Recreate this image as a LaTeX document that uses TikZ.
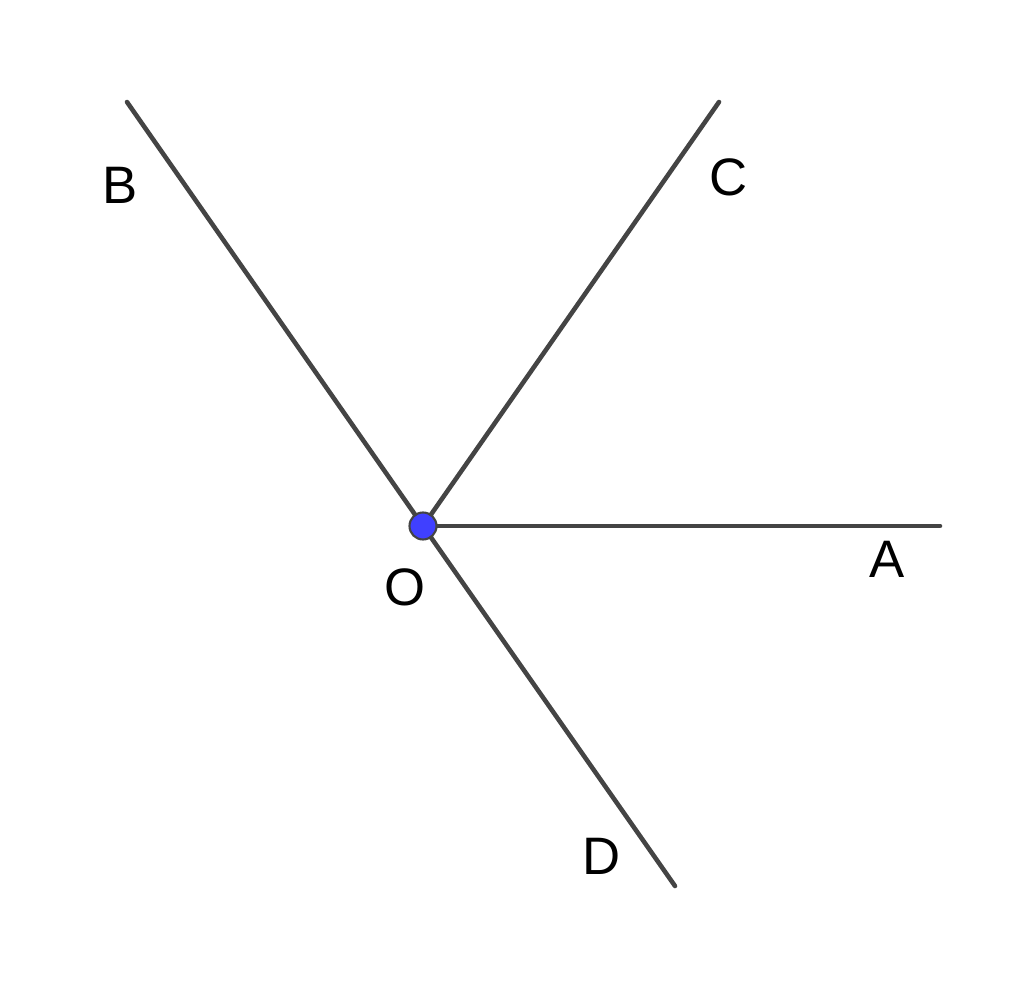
\documentclass[tikz,border=0pt]{standalone}
\usepackage{fontspec}
\setmainfont{Liberation Sans}
\usetikzlibrary{calc}
\definecolor{rayline}{RGB}{68,68,68}
\definecolor{ptblue}{RGB}{64,64,255}

\begin{document}
\begin{tikzpicture}[ray/.style={draw=rayline, line width=1.3pt, line cap=round},
	lbl/.style={font=\fontsize{15}{18}\selectfont, inner sep=0pt}]
			\useasboundingbox (0,0) rectangle (10.24,9.83);
			\coordinate (O) at (4.23,4.57);
			\coordinate (A) at (9.40,4.57);
			\coordinate (B) at (1.27,8.81);
			\coordinate (C) at (7.19,8.81);
			\coordinate (D) at (6.75,0.97);
			
			\draw[ray] (B)--(O)--(C);
			\draw[ray] (O)--(A);
			\draw[ray] (O)--(D);
			\node (pO) [circle, fill=ptblue, draw=rayline, line width=0.6pt, minimum size=0.27cm, inner sep=0pt] at (O){};
			
			\node (lA) [lbl] at (8.87,4.24){A};
			\node (lB) [lbl] at (1.20,7.98){B};
			\node (lC) [lbl] at (7.29,8.06){C};
			\node (lD) [lbl] at (6.02,1.27){D};
			\node (lO) [lbl] at (4.05,3.96){O};
		\end{tikzpicture}
\end{document}
